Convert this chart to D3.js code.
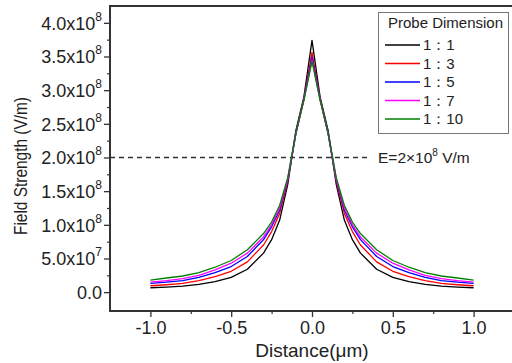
<!DOCTYPE html>
<html>
<head>
<meta charset="utf-8">
<script src="https://cdn.jsdelivr.net/npm/d3@7"></script>
<style>
  body { margin: 0; background: #fff; }
  text { font-family: "Liberation Sans", Arial, sans-serif; fill: #222; }
</style>
</head>
<body>
<svg id="chart" width="512" height="363"></svg>
<script>
// distance in µm, field strength in units of 10^8 V/m
const distance = [-1, -0.9, -0.8, -0.7, -0.6, -0.5, -0.4, -0.3, -0.25, -0.2, -0.15, -0.1, -0.05, 0,
                  0.05, 0.1, 0.15, 0.2, 0.25, 0.3, 0.4, 0.5, 0.6, 0.7, 0.8, 0.9, 1];
const field1to1 = [0.065, 0.075, 0.09, 0.115, 0.155, 0.22, 0.34, 0.58, 0.78, 1.07, 1.6, 2.4, 2.9, 3.74,
                   2.9, 2.4, 1.6, 1.07, 0.78, 0.58, 0.34, 0.22, 0.155, 0.115, 0.09, 0.075, 0.065];
const field1to3 = [0.095, 0.11, 0.13, 0.17, 0.23, 0.31, 0.45, 0.7, 0.9, 1.17, 1.65, 2.35, 2.88, 3.56,
                   2.88, 2.35, 1.65, 1.17, 0.9, 0.7, 0.45, 0.31, 0.23, 0.17, 0.13, 0.11, 0.095];
const field1to5 = [0.13, 0.15, 0.17, 0.22, 0.29, 0.38, 0.53, 0.78, 0.97, 1.22, 1.67, 2.35, 2.87, 3.49,
                   2.87, 2.35, 1.67, 1.22, 0.97, 0.78, 0.53, 0.38, 0.29, 0.22, 0.17, 0.15, 0.13];
const field1to7 = [0.15, 0.17, 0.2, 0.25, 0.33, 0.43, 0.58, 0.82, 1.0, 1.25, 1.68, 2.35, 2.86, 3.45,
                   2.86, 2.35, 1.68, 1.25, 1.0, 0.82, 0.58, 0.43, 0.33, 0.25, 0.2, 0.17, 0.15];
const field1to10 = [0.18, 0.21, 0.24, 0.29, 0.37, 0.47, 0.63, 0.87, 1.04, 1.29, 1.7, 2.37, 2.85, 3.43,
                    2.85, 2.37, 1.7, 1.29, 1.04, 0.87, 0.63, 0.47, 0.37, 0.29, 0.24, 0.21, 0.18];

const seriesNames = ["1：1", "1：3", "1：5", "1：7", "1：10"];
const seriesColors = ["#000000", "#ff0000", "#0000ff", "#ff00ff", "#008000"];
const seriesValues = [field1to1, field1to3, field1to5, field1to7, field1to10];

const xTicks = [-1.0, -0.5, 0.0, 0.5, 1.0];
const xTickLabels = ["-1.0", "-0.5", "0.0", "0.5", "1.0"];
const yTicks = [0, 0.5, 1.0, 1.5, 2.0, 2.5, 3.0, 3.5, 4.0];
const yTickMantissa = ["0.0", "5.0x10", "1.0x10", "1.5x10", "2.0x10", "2.5x10", "3.0x10", "3.5x10", "4.0x10"];
const yTickExponent = ["", "7", "8", "8", "8", "8", "8", "8", "8"];
const thresholdValue = 2.0;

const svg = d3.select("#chart");
const x = d3.scaleLinear().domain([-1.25, 1.25]).range([110, 514]);
const y = d3.scaleLinear().domain([-0.28, 4.25]).range([311, 6]);

// frame lines (left, bottom, top)
const axisColor = "#333";
svg.append("line").attr("x1", x(-1.25)).attr("x2", x(-1.25)).attr("y1", y(4.25)).attr("y2", y(-0.28))
  .attr("stroke", axisColor).attr("stroke-width", 2);
svg.append("line").attr("x1", x(-1.25) - 1).attr("x2", 512).attr("y1", y(-0.28)).attr("y2", y(-0.28))
  .attr("stroke", axisColor).attr("stroke-width", 2);
svg.append("line").attr("x1", x(-1.25) - 1).attr("x2", 512).attr("y1", y(4.25)).attr("y2", y(4.25))
  .attr("stroke", axisColor).attr("stroke-width", 2);

// x axis
const xAxis = d3.axisBottom(x).tickValues(xTicks).tickSize(6).tickFormat((d, i) => xTickLabels[i]);
const gx = svg.append("g").attr("transform", `translate(0,${y(-0.28)})`).call(xAxis);
gx.select(".domain").remove();
gx.selectAll("line").attr("stroke", axisColor).attr("stroke-width", 1.3);
gx.selectAll("text").attr("font-size", 18).attr("dy", 0).attr("y", 23).attr("font-family", "Liberation Sans, Arial, sans-serif").attr("fill", "#222");
const xMinor = d3.axisBottom(x).tickValues(d3.range(-0.75, 1.0, 0.5)).tickSize(3).tickFormat("");
const gxm = svg.append("g").attr("transform", `translate(0,${y(-0.28)})`).call(xMinor);
gxm.select(".domain").remove();
gxm.selectAll("line").attr("stroke", axisColor).attr("stroke-width", 1.2);

// y axis
const yAxis = d3.axisLeft(y).tickValues(yTicks).tickSize(6).tickFormat("");
const gy = svg.append("g").attr("transform", `translate(${x(-1.25)},0)`).call(yAxis);
gy.select(".domain").remove();
gy.selectAll("line").attr("stroke", axisColor).attr("stroke-width", 1.3);
gy.selectAll(".tick").each(function (d, i) {
  const t = d3.select(this).append("text")
    .attr("x", -8).attr("dy", "0.36em")
    .attr("text-anchor", "end").attr("font-size", 18)
    .attr("font-family", "Liberation Sans, Arial, sans-serif").attr("fill", "#222");
  t.append("tspan").text(yTickMantissa[i]);
  if (yTickExponent[i]) {
    t.append("tspan").attr("font-size", 12).attr("dy", "-0.75em").text(yTickExponent[i]);
  }
});
const yMinor = d3.axisLeft(y).tickValues(d3.range(0.25, 4.25, 0.5)).tickSize(3).tickFormat("");
const gym = svg.append("g").attr("transform", `translate(${x(-1.25)},0)`).call(yMinor);
gym.select(".domain").remove();
gym.selectAll("line").attr("stroke", axisColor).attr("stroke-width", 1.2);

// axis titles
svg.append("text").attr("x", x(0)).attr("y", 357).attr("text-anchor", "middle")
  .attr("font-size", 19).text("Distance(μm)");
svg.append("text").attr("transform", "translate(27,166) rotate(-90)").attr("text-anchor", "middle")
  .attr("font-size", 19).attr("textLength", 138).attr("lengthAdjust", "spacingAndGlyphs")
  .text("Field Strength (V/m)");

// threshold line
svg.append("line").attr("x1", x(-1.25)).attr("x2", 370).attr("y1", y(thresholdValue)).attr("y2", y(thresholdValue))
  .attr("stroke", "#333").attr("stroke-width", 1.5).attr("stroke-dasharray", "5,4");
const thr = svg.append("text").attr("x", 378).attr("y", y(thresholdValue)).attr("dy", "0.36em")
  .attr("font-size", 15.5);
thr.append("tspan").text("E=2×10");
thr.append("tspan").attr("font-size", 10).attr("dy", "-0.7em").text("8");
thr.append("tspan").attr("font-size", 15.5).attr("dy", "0.45em").text(" V/m");

// curves
const line = d3.line().x((d, i) => x(distance[i])).y(d => y(d));
seriesValues.forEach((vals, k) => {
  svg.append("path").datum(vals).attr("d", line)
    .attr("fill", "none").attr("stroke", seriesColors[k]).attr("stroke-width", 1.3)
    .attr("stroke-linejoin", "round");
});

// legend
const lg = svg.append("g");
lg.append("rect").attr("x", 378.5).attr("y", 12.5).attr("width", 130).attr("height", 121)
  .attr("fill", "#fff").attr("stroke", "#777").attr("stroke-width", 1);
lg.append("text").attr("x", 388).attr("y", 28).attr("font-size", 15).text("Probe Dimension");
seriesNames.forEach((name, k) => {
  const yy = 45 + k * 18.5;
  lg.append("line").attr("x1", 385).attr("x2", 420).attr("y1", yy).attr("y2", yy)
    .attr("stroke", seriesColors[k]).attr("stroke-width", 1.3);
  lg.append("text").attr("x", 423).attr("y", yy).attr("dy", "0.36em").attr("font-size", 15).text(name);
});
</script>
</body>
</html>
